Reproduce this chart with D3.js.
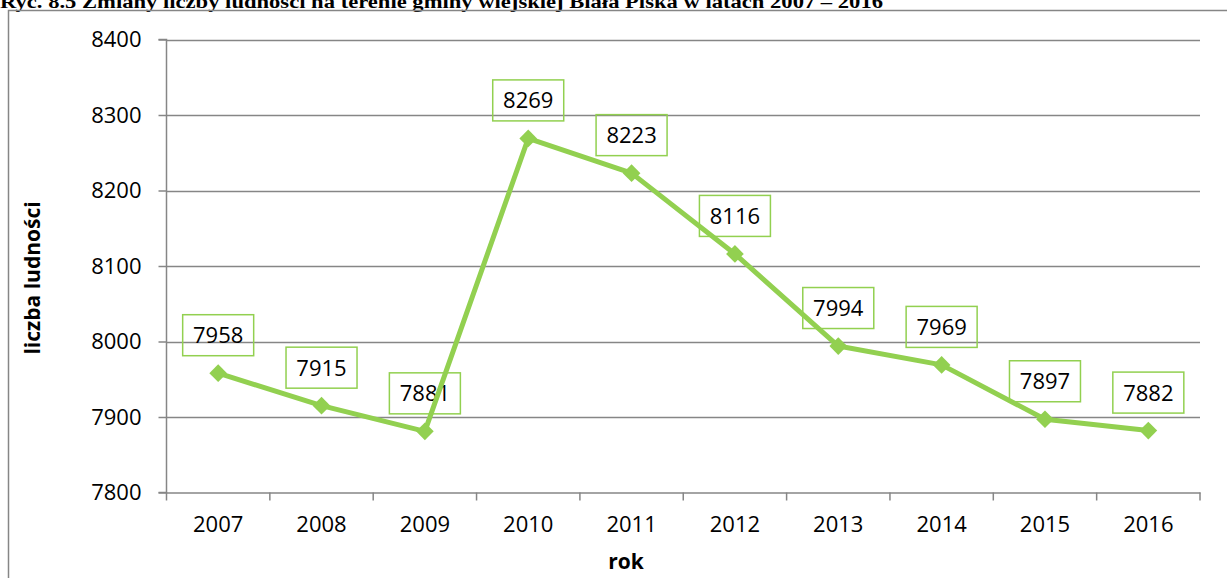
<!DOCTYPE html>
<html><head><meta charset="utf-8">
<script src="https://cdn.jsdelivr.net/npm/d3@7"></script>
<style>body{margin:0;background:#fff;} svg{display:block;}</style>
</head><body>
<svg id="c" width="1227" height="578"></svg>
<script>
const years = ["2007","2008","2009","2010","2011","2012","2013","2014","2015","2016"];
const population = [7958,7915,7881,8269,8223,8116,7994,7969,7897,7882];
const yTicks = [7800,7900,8000,8100,8200,8300,8400];
const titleText = "Ryc. 8.5 Zmiany liczby ludności na terenie gminy wiejskiej Biała Piska w latach 2007 – 2016";
const yTitle = "liczba ludności";
const xTitle = "rok";

(function(){
const svg = d3.select("#c");
const green = "#92D050", grid = "#868686";
const pL = 166.5, pR = 1200, pT = 39.5, pB = 492.5;
const font = "'Open Sans', sans-serif";

// title
svg.append("text").attr("x", 0).attr("y", 8)
  .attr("font-family", "'Liberation Serif', 'Times New Roman', serif")
  .attr("font-weight", "bold").attr("font-size", 19)
  .attr("textLength", 883).attr("lengthAdjust", "spacingAndGlyphs")
  .text(titleText);

// frame
svg.append("path").attr("d", "M8.5,600 V10.5 H1240")
  .attr("fill", "none").attr("stroke", grid).attr("stroke-width", 1.5);

const x = d3.scaleBand().domain(years).range([pL, pR]);
const y = d3.scaleLinear().domain([7800, 8400]).range([pB, pT]);

// grid
svg.append("g").selectAll("line").data(yTicks.slice(1)).join("line")
  .attr("x1", pL).attr("x2", pR)
  .attr("y1", d => Math.round(y(d)) + 0.5).attr("y2", d => Math.round(y(d)) + 0.5)
  .attr("stroke", grid).attr("stroke-width", 1.5);

// y axis
const ya = svg.append("g").attr("transform", `translate(${pL},0)`)
  .call(d3.axisLeft(y).tickValues(yTicks).tickSize(8).tickPadding(17).tickFormat(d3.format("d")));
ya.select(".domain").attr("stroke", grid).attr("stroke-width", 1.5).attr("d", `M-8,${y(7800)}H0V${y(8400)}H-8`);
ya.selectAll(".tick line").attr("stroke", grid).attr("stroke-width", 1.5);
ya.selectAll("text").attr("font-family", font).attr("font-size", 22).attr("fill", "#000");

// x axis
const xa = svg.append("g").attr("transform", `translate(0,${pB})`)
  .call(d3.axisBottom(x).tickSize(0).tickPadding(24));
xa.select(".domain").attr("stroke", grid).attr("stroke-width", 1.5);
xa.selectAll("text").attr("font-family", font).attr("font-size", 22).attr("fill", "#000");
const bounds = years.map(d => x(d)).concat([pR]);
xa.append("g").selectAll("line").data(bounds).join("line")
  .attr("x1", d => d).attr("x2", d => d).attr("y1", 0).attr("y2", 8)
  .attr("stroke", grid).attr("stroke-width", 1.5);

// axis titles
svg.append("text").attr("transform", `translate(40,278) rotate(-90)`)
  .attr("text-anchor", "middle").attr("font-family", font).attr("font-weight", "bold")
  .attr("font-size", 21).text(yTitle);
svg.append("text").attr("x", 626).attr("y", 569)
  .attr("text-anchor", "middle").attr("font-family", font).attr("font-weight", "bold")
  .attr("font-size", 21).text(xTitle);

const cx = d => x(d) + x.bandwidth() / 2;
const data = years.map((yr, i) => ({yr, v: population[i]}));

// labels
const lg = svg.append("g").selectAll("g").data(data).join("g")
  .attr("transform", d => `translate(${cx(d.yr)},${y(d.v) - 38})`);
lg.append("rect").attr("x", -35.5).attr("y", -20.5).attr("width", 71).attr("height", 41)
  .attr("fill", "none").attr("stroke", green).attr("stroke-width", 1.5);
lg.append("text").attr("text-anchor", "middle").attr("dy", "0.36em")
  .attr("font-family", font).attr("font-size", 22).attr("fill", "#000").text(d => d.v);

// line
svg.append("path").datum(data)
  .attr("d", d3.line().x(d => cx(d.yr)).y(d => y(d.v)))
  .attr("fill", "none").attr("stroke", green).attr("stroke-width", 5).attr("stroke-linejoin", "round");
svg.append("g").selectAll("path").data(data).join("path")
  .attr("transform", d => `translate(${cx(d.yr)},${y(d.v)})`)
  .attr("d", d3.symbol(d3.symbolDiamond2, 200)())
  .attr("fill", green);
})();
</script>
</body></html>
